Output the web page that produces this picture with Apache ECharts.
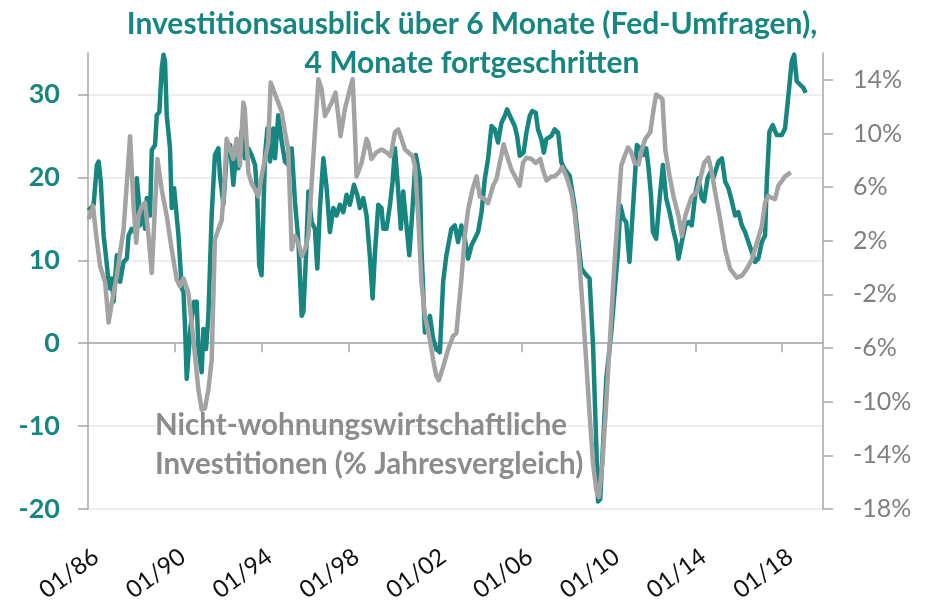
<!DOCTYPE html>
<html>
<head>
<meta charset="utf-8">
<script src="https://cdn.jsdelivr.net/npm/echarts@6/dist/echarts.min.js"></script>
<style>
  html, body { margin: 0; padding: 0; background: #fff; }
  #chart { width: 930px; height: 603px; }
</style>
</head>
<body>
<div id="chart"></div>
<script>
// ==============================
// data
// ==============================

// Fed surveys, capex outlook 6m ahead, advanced 4 months (left axis)
const fedYears = [
  1986.02, 1986.26, 1986.41, 1986.49, 1986.59, 1986.72, 1986.79, 1986.95, 1987.02, 1987.10,
  1987.18, 1987.25, 1987.33, 1987.48, 1987.64, 1987.79, 1987.87, 1988.02, 1988.17, 1988.25,
  1988.33, 1988.40, 1988.56, 1988.63, 1988.71, 1988.86, 1988.94, 1989.09, 1989.17, 1989.29,
  1989.40, 1989.48, 1989.55, 1989.63, 1989.78, 1989.86, 1989.97, 1990.06, 1990.17, 1990.32,
  1990.40, 1990.47, 1990.55, 1990.63, 1990.73, 1990.89, 1991.01, 1991.09, 1991.24, 1991.32,
  1991.44, 1991.55, 1991.70, 1991.85, 1992.01, 1992.08, 1992.24, 1992.39, 1992.55, 1992.70,
  1992.85, 1992.93, 1993.08, 1993.23, 1993.39, 1993.54, 1993.70, 1993.80, 1993.89, 1994.00,
  1994.08, 1994.16, 1994.27, 1994.39, 1994.54, 1994.62, 1994.77, 1994.93, 1995.08, 1995.23,
  1995.39, 1995.54, 1995.70, 1995.85, 1995.93, 1996.05, 1996.16, 1996.31, 1996.46, 1996.57,
  1996.69, 1996.85, 1997.00, 1997.15, 1997.31, 1997.46, 1997.61, 1997.77, 1997.92, 1998.07,
  1998.26, 1998.41, 1998.53, 1998.69, 1998.84, 1998.99, 1999.12, 1999.22, 1999.38, 1999.53,
  1999.61, 1999.76, 1999.92, 2000.04, 2000.15, 2000.30, 2000.42, 2000.53, 2000.68, 2000.81,
  2000.96, 2001.11, 2001.30, 2001.37, 2001.53, 2001.76, 2001.91, 2002.06, 2002.22, 2002.37,
  2002.52, 2002.75, 2002.91, 2003.06, 2003.21, 2003.37, 2003.52, 2003.68, 2003.83, 2003.98,
  2004.14, 2004.29, 2004.44, 2004.60, 2004.75, 2004.90, 2005.06, 2005.21, 2005.32, 2005.52,
  2005.67, 2005.78, 2005.90, 2006.08, 2006.21, 2006.36, 2006.48, 2006.64, 2006.74, 2006.90,
  2007.01, 2007.13, 2007.36, 2007.51, 2007.67, 2007.82, 2007.97, 2008.20, 2008.43, 2008.59,
  2008.74, 2008.97, 2009.12, 2009.28, 2009.43, 2009.51, 2009.61, 2009.74, 2009.89, 2010.12,
  2010.27, 2010.43, 2010.54, 2010.69, 2010.81, 2010.96, 2011.15, 2011.30, 2011.46, 2011.61,
  2011.73, 2011.84, 2011.95, 2012.04, 2012.19, 2012.35, 2012.50, 2012.65, 2012.81, 2012.96,
  2013.11, 2013.22, 2013.37, 2013.53, 2013.68, 2013.83, 2013.99, 2014.14, 2014.29, 2014.40,
  2014.56, 2014.71, 2014.83, 2015.06, 2015.22, 2015.37, 2015.52, 2015.68, 2015.83, 2015.98,
  2016.14, 2016.29, 2016.44, 2016.60, 2016.75, 2016.90, 2017.06, 2017.21, 2017.29, 2017.41,
  2017.56, 2017.75, 2017.98, 2018.13, 2018.29, 2018.44, 2018.55, 2018.67, 2018.82, 2018.98,
  2019.08
];
const fedValues = [
  16.0, 16.7, 21.5, 21.9, 19.5, 13.0, 11.4, 7.4, 6.6, 7.8,
  5.0, 7.8, 10.6, 7.4, 9.8, 10.2, 13.0, 13.8, 13.4, 19.9,
  17.5, 14.2, 16.7, 13.8, 17.5, 15.4, 23.3, 23.9, 27.5, 27.9,
  33.2, 34.8, 34.0, 27.5, 23.5, 16.3, 18.7, 18.7, 13.0, 6.6,
  6.2, 2.1, -4.3, -4.3, 2.1, 5.0, 5.0, -0.7, -3.5, 1.7,
  -0.7, 3.3, 15.4, 22.7, 23.5, 20.3, 16.7, 22.7, 23.9, 19.1,
  23.5, 21.1, 25.5, 22.3, 23.5, 22.7, 21.5, 17.9, 9.4, 8.2,
  15.4, 22.7, 25.9, 21.9, 25.9, 22.3, 27.5, 24.3, 21.9, 21.5,
  23.5, 17.1, 12.2, 3.3, 3.8, 10.6, 18.3, 14.6, 13.8, 9.0,
  16.3, 22.3, 18.7, 13.4, 16.3, 15.4, 16.7, 15.8, 17.9, 16.7,
  19.1, 17.9, 16.3, 17.5, 15.4, 10.6, 5.4, 10.6, 16.7, 16.3,
  13.8, 13.8, 16.7, 19.5, 23.5, 18.3, 13.8, 18.3, 14.2, 10.6,
  16.3, 22.7, 19.9, 11.4, 1.3, 3.3, 0.5, -0.7, -1.1, 7.4,
  10.6, 13.8, 14.2, 12.2, 14.2, 12.6, 10.2, 11.8, 12.6, 13.4,
  15.8, 19.8, 22.2, 26.2, 25.8, 24.2, 26.6, 27.4, 28.2, 27.0,
  26.2, 25.0, 22.6, 23.0, 25.4, 27.4, 28.0, 27.8, 25.8, 24.6,
  23.0, 24.6, 25.0, 25.8, 25.4, 21.8, 21.0, 20.2, 16.6, 12.6,
  9.0, 8.2, 7.8, -0.3, -12.3, -19.1, -18.8, -12.3, -4.3, 1.3,
  6.1, 11.0, 16.6, 15.0, 14.6, 9.8, 17.5, 23.9, 23.5, 22.7,
  23.5, 21.1, 17.9, 13.4, 12.6, 17.5, 21.5, 17.5, 15.8, 13.8,
  12.2, 10.2, 12.2, 14.2, 14.6, 14.2, 17.9, 19.9, 17.5, 17.1,
  19.9, 20.7, 19.9, 21.9, 22.3, 19.5, 18.7, 17.1, 15.4, 15.8,
  14.2, 13.4, 12.2, 11.0, 9.8, 10.2, 12.2, 13.0, 19.5, 25.5,
  26.3, 25.1, 25.1, 25.9, 30.0, 34.0, 34.8, 31.6, 31.2, 30.8,
  30.2
];

// Non-residential investment, % y/y (right axis)
const capexYears = [
  1986.03, 1986.23, 1986.38, 1986.56, 1986.79, 1986.95, 1987.10, 1987.33, 1987.48, 1987.64,
  1987.79, 1987.94, 1988.10, 1988.22, 1988.33, 1988.48, 1988.63, 1988.79, 1988.94, 1989.09,
  1989.20, 1989.40, 1989.63, 1989.86, 1990.09, 1990.24, 1990.40, 1990.63, 1990.86, 1991.09,
  1991.24, 1991.39, 1991.55, 1991.70, 1991.85, 1992.01, 1992.16, 1992.27, 1992.39, 1992.55,
  1992.70, 1992.85, 1993.00, 1993.16, 1993.23, 1993.39, 1993.54, 1993.70, 1993.85, 1994.00,
  1994.16, 1994.31, 1994.42, 1994.70, 1994.93, 1995.08, 1995.23, 1995.39, 1995.54, 1995.70,
  1995.85, 1996.00, 1996.16, 1996.31, 1996.46, 1996.62, 1996.77, 1996.92, 1997.08, 1997.23,
  1997.41, 1997.54, 1997.64, 1997.84, 1998.07, 1998.20, 1998.30, 1998.38, 1998.61, 1998.84,
  1998.92, 1999.07, 1999.30, 1999.53, 1999.76, 1999.95, 2000.15, 2000.30, 2000.45, 2000.61,
  2000.76, 2000.96, 2001.07, 2001.22, 2001.37, 2001.53, 2001.76, 2001.91, 2002.06, 2002.17,
  2002.37, 2002.60, 2002.83, 2002.98, 2003.21, 2003.37, 2003.52, 2003.72, 2003.91, 2004.06,
  2004.29, 2004.44, 2004.67, 2004.83, 2004.98, 2005.16, 2005.32, 2005.52, 2005.75, 2005.90,
  2006.05, 2006.21, 2006.44, 2006.64, 2006.85, 2006.97, 2007.13, 2007.36, 2007.51, 2007.71,
  2007.86, 2008.05, 2008.28, 2008.43, 2008.63, 2008.82, 2008.97, 2009.12, 2009.28, 2009.43,
  2009.55, 2009.71, 2009.86, 2010.04, 2010.27, 2010.43, 2010.58, 2010.73, 2010.89, 2011.04,
  2011.20, 2011.38, 2011.53, 2011.69, 2011.92, 2012.07, 2012.19, 2012.38, 2012.48, 2012.61,
  2012.81, 2012.99, 2013.22, 2013.37, 2013.53, 2013.68, 2013.83, 2014.06, 2014.22, 2014.40,
  2014.60, 2014.75, 2014.91, 2015.14, 2015.37, 2015.60, 2015.91, 2016.14, 2016.37, 2016.60,
  2016.83, 2017.06, 2017.21, 2017.36, 2017.52, 2017.67, 2017.82, 2017.98, 2018.13, 2018.39
];
const capexValues = [
  3.6, 4.6, 2.35, 0.1, -1.1, -4.1, -2.6, -0.6, 1.1, 2.85,
  6.3, 9.8, 4.6, 1.85, 3.85, 4.6, 4.85, 2.35, -0.4, 4.6,
  8.1, 5.8, 3.85, 1.35, -0.9, -1.4, -0.8, -1.9, -5.4, -9.1,
  -10.6, -10.5, -9.1, -6.9, 2.1, 2.85, 3.5, 5.8, 9.6, 8.8,
  8.1, 9.6, 7.6, 12.3, 11.8, 7.1, 6.3, 5.8, 5.3, 6.8,
  8.1, 9.3, 13.8, 12.6, 11.6, 10.1, 8.8, 1.35, 2.35, 1.85,
  0.85, 1.35, 2.35, 6.3, 10.1, 14.05, 13.3, 11.3, 11.8, 12.3,
  13.05, 11.3, 9.8, 11.8, 13.3, 14.05, 10.3, 6.8, 7.8, 9.6,
  9.3, 8.1, 8.6, 8.8, 8.6, 8.3, 10.1, 10.3, 9.6, 8.8,
  8.6, 8.3, 7.6, 3.85, -1.1, -3.6, -5.4, -6.9, -8.1, -8.4,
  -7.4, -6.1, -5.1, -4.9, -0.9, 2.35, 4.3, 5.8, 6.8, 5.3,
  5.1, 4.8, 6.1, 6.6, 7.8, 9.2, 8.3, 7.3, 6.6, 6.1,
  7.8, 8.2, 8.1, 7.8, 8.1, 7.3, 6.5, 6.8, 6.8, 7.1,
  7.5, 6.8, 5.6, 4.1, 0.85, -3.4, -7.1, -10.9, -14.6, -16.6,
  -17.1, -14.6, -10.9, -5.9, 0.35, 4.1, 7.6, 8.3, 8.95, 8.6,
  7.8, 7.7, 8.8, 9.6, 10.1, 11.8, 12.9, 12.7, 12.55, 8.8,
  6.8, 5.3, 3.85, 2.35, 3.85, 4.6, 5.3, 5.6, 6.6, 7.8,
  8.2, 7.1, 5.6, 3.6, 1.35, -0.1, -0.75, -0.6, -0.1, 0.6,
  1.85, 3.1, 4.85, 5.35, 5.2, 5.1, 6.1, 6.45, 6.8, 7.1
];

// axis ticks
const yearTicks = [1986, 1990, 1994, 1998, 2002, 2006, 2010, 2014, 2018];
const leftTicks = [-20, -10, 0, 10, 20, 30];
const rightTicks = [-18, -14, -10, -6, -2, 2, 6, 10, 14];

const TEAL = '#178681';
const GREY = '#a3a3a3';
const AXIS = '#a6a6a6';
const FONT = 'Lato, "Open Sans", sans-serif';

const X_MIN = 1986;
const X_MAX = 2019.88;
const LABEL_SHIFT = 0.37; // rotated date labels sit a bit right of their tick

// ==============================
// chart
// ==============================

const chart = echarts.init(document.getElementById('chart'));

const zip = (xs, ys) => xs.map((x, i) => [x, ys[i]]);

chart.setOption({
  animation: false,
  title: {
    text: 'Investitionsausblick über 6 Monate (Fed-Umfragen),\n4 Monate fortgeschritten',
    left: 467,
    top: 0,
    textAlign: 'center',
    textStyle: {
      color: TEAL,
      fontFamily: FONT,
      fontWeight: 'bold',
      fontSize: 30,
      lineHeight: 39
    }
  },
  graphic: [{
    type: 'text',
    left: 155,
    top: 406,
    z: 100,
    style: {
      text: 'Nicht-wohnungswirtschaftliche\nInvestitionen (% Jahresvergleich)',
      fill: '#8c8c8c',
      font: 'bold 29.5px ' + FONT,
      lineHeight: 39
    }
  }],
  grid: { left: 88, right: 107, top: 53, bottom: 94, containLabel: false, outerBoundsMode: 'none' },
  xAxis: [{
    type: 'value',
    min: X_MIN,
    max: X_MAX,
    axisLine: { onZero: true, onZeroAxisIndex: 0, lineStyle: { color: AXIS, width: 1.5 } },
    axisTick: { show: true, length: 9, customValues: yearTicks.slice(1), lineStyle: { color: AXIS, width: 1.5 } },
    axisLabel: { show: false },
    splitLine: { show: false }
  }, {
    type: 'value',
    position: 'bottom',
    min: X_MIN - LABEL_SHIFT,
    max: X_MAX - LABEL_SHIFT,
    axisLine: { show: false, onZero: false },
    axisTick: { show: false },
    splitLine: { show: false },
    axisLabel: {
      customValues: yearTicks,
      formatter: v => '01/' + String(Math.round(v)).slice(2),
      rotate: 36,
      margin: 45,
      color: '#111',
      fontFamily: FONT,
      fontSize: 24
    }
  }],
  yAxis: [{
    type: 'value',
    position: 'left',
    min: -20,
    max: 35,
    interval: 10,
    axisLine: { show: true, lineStyle: { color: AXIS, width: 1.5 } },
    axisTick: { show: true, length: 10, customValues: leftTicks, lineStyle: { color: AXIS, width: 1.5 } },
    axisLabel: {
      customValues: leftTicks,
      margin: 28,
      color: TEAL,
      fontFamily: FONT,
      fontWeight: 'bold',
      fontSize: 27
    },
    splitLine: {
      show: true,
      lineStyle: {
        color: ['#e8e8e8', '#e8e8e8', '#e8e8e8', '#e8e8e8', '#e8e8e8', '#e8e8e8', 'rgba(0,0,0,0)'],
        width: 1.5
      }
    }
  }, {
    type: 'value',
    position: 'right',
    min: -18,
    max: 16,
    interval: 4,
    axisLine: { show: true, lineStyle: { color: AXIS, width: 1.5 } },
    axisTick: { show: true, length: 10, customValues: rightTicks, lineStyle: { color: AXIS, width: 1.5 } },
    axisLabel: {
      customValues: rightTicks,
      formatter: '{value}%',
      margin: 30,
      color: '#808080',
      fontFamily: FONT,
      fontSize: 25
    },
    splitLine: { show: false }
  }],
  series: [{
    name: 'Fed',
    type: 'line',
    xAxisIndex: 0,
    yAxisIndex: 0,
    data: zip(fedYears, fedValues),
    showSymbol: false,
    lineStyle: { color: TEAL, width: 4.5, join: 'round' },
    z: 2
  }, {
    name: 'Investitionen',
    type: 'line',
    xAxisIndex: 0,
    yAxisIndex: 1,
    data: zip(capexYears, capexValues),
    showSymbol: false,
    lineStyle: { color: GREY, width: 4.5, join: 'round' },
    z: 3
  }]
});

window.addEventListener('resize', () => chart.resize());
</script>
</body>
</html>
